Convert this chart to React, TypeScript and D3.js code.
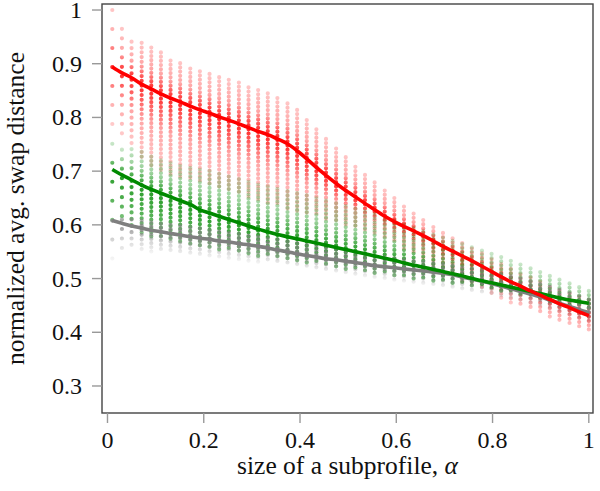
import * as d3 from "d3";

// subprofile sizes (one column of points per value)
const ALPHA = [
  0.01, 0.03, 0.05, 0.071, 0.091, 0.111, 0.131, 0.151, 0.172, 0.192,
  0.212, 0.232, 0.252, 0.273, 0.293, 0.313, 0.333, 0.353, 0.374, 0.394,
  0.414, 0.434, 0.454, 0.475, 0.495, 0.515, 0.535, 0.555, 0.576, 0.596,
  0.616, 0.636, 0.656, 0.677, 0.697, 0.717, 0.737, 0.757, 0.778, 0.798,
  0.818, 0.838, 0.858, 0.879, 0.899, 0.919, 0.939, 0.96, 0.98, 1.0,
];

// red series
const RED_MEAN = [
  0.894, 0.883, 0.874, 0.862, 0.853, 0.844, 0.836, 0.829, 0.821, 0.814,
  0.808, 0.801, 0.795, 0.788, 0.781, 0.774, 0.768, 0.76, 0.751, 0.738,
  0.723, 0.707, 0.692, 0.677, 0.664, 0.652, 0.64, 0.628, 0.616, 0.606,
  0.597, 0.589, 0.58, 0.57, 0.56, 0.551, 0.542, 0.533, 0.523, 0.513,
  0.503, 0.494, 0.486, 0.477, 0.469, 0.461, 0.453, 0.446, 0.438, 0.431,
];
const RED_HI = [
  1.0, 0.965, 0.941, 0.939, 0.93, 0.921, 0.906, 0.901, 0.891, 0.886,
  0.881, 0.875, 0.87, 0.865, 0.856, 0.851, 0.845, 0.836, 0.826, 0.814,
  0.795, 0.778, 0.76, 0.742, 0.726, 0.708, 0.693, 0.679, 0.664, 0.65,
  0.634, 0.621, 0.609, 0.596, 0.585, 0.575, 0.566, 0.556, 0.547, 0.536,
  0.527, 0.518, 0.508, 0.502, 0.494, 0.484, 0.478, 0.472, 0.466, 0.46,
];
const RED_LO = [
  0.787, 0.767, 0.745, 0.72, 0.71, 0.7, 0.69, 0.685, 0.68, 0.675,
  0.67, 0.665, 0.66, 0.655, 0.65, 0.645, 0.64, 0.635, 0.63, 0.625,
  0.62, 0.615, 0.61, 0.605, 0.6, 0.595, 0.59, 0.585, 0.575, 0.565,
  0.555, 0.545, 0.535, 0.525, 0.515, 0.505, 0.495, 0.487, 0.478, 0.47,
  0.462, 0.455, 0.447, 0.44, 0.432, 0.425, 0.418, 0.412, 0.406, 0.4,
];

// green series
const GREEN_MEAN = [
  0.703, 0.693, 0.684, 0.674, 0.666, 0.659, 0.652, 0.645, 0.638, 0.628,
  0.622, 0.616, 0.61, 0.604, 0.598, 0.592, 0.587, 0.582, 0.578, 0.574,
  0.57, 0.566, 0.562, 0.558, 0.554, 0.55, 0.546, 0.542, 0.538, 0.534,
  0.529, 0.525, 0.521, 0.517, 0.513, 0.509, 0.505, 0.5, 0.496, 0.492,
  0.488, 0.484, 0.48, 0.476, 0.472, 0.468, 0.464, 0.46, 0.457, 0.454,
];
const GREEN_HI = [
  0.751, 0.74, 0.741, 0.736, 0.727, 0.72, 0.715, 0.71, 0.706, 0.703,
  0.7, 0.695, 0.69, 0.685, 0.68, 0.675, 0.671, 0.667, 0.663, 0.659,
  0.655, 0.65, 0.645, 0.64, 0.635, 0.63, 0.625, 0.62, 0.615, 0.608,
  0.6, 0.594, 0.588, 0.582, 0.576, 0.57, 0.564, 0.558, 0.552, 0.546,
  0.54, 0.533, 0.526, 0.519, 0.512, 0.505, 0.498, 0.491, 0.484, 0.477,
];
const GREEN_LO = [
  0.608, 0.6, 0.59, 0.582, 0.576, 0.572, 0.568, 0.565, 0.562, 0.559,
  0.556, 0.553, 0.55, 0.547, 0.545, 0.542, 0.54, 0.537, 0.534, 0.531,
  0.528, 0.525, 0.522, 0.52, 0.517, 0.515, 0.512, 0.51, 0.507, 0.505,
  0.502, 0.5, 0.497, 0.495, 0.492, 0.49, 0.487, 0.485, 0.482, 0.479,
  0.476, 0.473, 0.47, 0.466, 0.462, 0.458, 0.454, 0.45, 0.446, 0.442,
];

// gray series
const GRAY_MEAN = [
  0.608, 0.603, 0.598, 0.594, 0.59, 0.587, 0.584, 0.581, 0.578, 0.575,
  0.573, 0.57, 0.568, 0.565, 0.563, 0.56, 0.557, 0.553, 0.55, 0.546,
  0.543, 0.54, 0.537, 0.535, 0.532, 0.53, 0.527, 0.524, 0.522, 0.52,
  0.518, 0.516, 0.514, 0.512, 0.51, 0.507, 0.503, 0.499, 0.495, 0.491,
  0.486, 0.481, 0.476, 0.471, 0.466, 0.46, 0.454, 0.448, 0.442, 0.437,
];
const GRAY_HI = [
  0.608, 0.61, 0.61, 0.608, 0.605, 0.602, 0.6, 0.598, 0.595, 0.593,
  0.59, 0.588, 0.585, 0.583, 0.58, 0.578, 0.575, 0.572, 0.569, 0.566,
  0.563, 0.56, 0.557, 0.554, 0.551, 0.548, 0.545, 0.542, 0.54, 0.537,
  0.535, 0.533, 0.531, 0.529, 0.527, 0.524, 0.521, 0.518, 0.515, 0.512,
  0.508, 0.504, 0.5, 0.495, 0.49, 0.485, 0.479, 0.473, 0.467, 0.461,
];
const GRAY_LO = [
  0.537, 0.545, 0.552, 0.551, 0.55, 0.548, 0.547, 0.545, 0.544, 0.542,
  0.541, 0.539, 0.537, 0.535, 0.533, 0.531, 0.529, 0.527, 0.524, 0.522,
  0.519, 0.517, 0.514, 0.512, 0.509, 0.507, 0.505, 0.502, 0.5, 0.497,
  0.495, 0.492, 0.49, 0.487, 0.484, 0.481, 0.478, 0.475, 0.472, 0.469,
  0.465, 0.461, 0.457, 0.452, 0.447, 0.442, 0.436, 0.43, 0.424, 0.418,
];

const X_TICKS = [0, 0.2, 0.4, 0.6, 0.8, 1];
const Y_TICKS = [0.3, 0.4, 0.5, 0.6, 0.7, 0.8, 0.9, 1];

const WIDTH = 600;
const HEIGHT = 491;
const PLOT = { left: 102, right: 593, top: 4, bottom: 413 };
const FONT = "'Liberation Serif', 'DejaVu Serif', serif";

interface Series {
  key: string;
  color: string;
  mean: number[];
  hi: number[];
  lo: number[];
  // opacity at top of strip, halfway to the mean, at the mean, halfway down, at bottom
  fade: [number, number, number, number, number];
}

const SERIES: Series[] = [
  { key: "red", color: "#ff0000", mean: RED_MEAN, hi: RED_HI, lo: RED_LO, fade: [0.22, 0.35, 0.85, 0.35, 0.2] },
  { key: "green", color: "#008a00", mean: GREEN_MEAN, hi: GREEN_HI, lo: GREEN_LO, fade: [0.2, 0.4, 0.85, 0.7, 0.45] },
  { key: "gray", color: "#7f7f7f", mean: GRAY_MEAN, hi: GRAY_HI, lo: GRAY_LO, fade: [0.5, 0.7, 0.85, 0.35, 0.06] },
];

// draw order of the mean curves (red on top)
const LINE_ORDER = ["gray", "green", "red"];

export default function App() {
  const x = d3.scaleLinear().domain([-0.0114, 1.0087]).range([PLOT.left, PLOT.right]);
  const y = d3.scaleLinear().domain([0.2497, 1.0112]).range([PLOT.bottom, PLOT.top]);

  const line = d3
    .line<number>()
    .x((_, i) => x(ALPHA[i]))
    .y((d) => y(d))
    .curve(d3.curveMonotoneX);

  const dotR = 2.1;
  const tickSize = 24;
  const titleSize = 25.5;

  return (
    <svg
      width={WIDTH}
      height={HEIGHT}
      style={{ position: "absolute", left: 0, top: 0, background: "#fff" }}
      fontFamily={FONT}
    >
      <defs>
        <clipPath id="plot-clip">
          <rect x={PLOT.left} y={PLOT.top} width={PLOT.right - PLOT.left} height={PLOT.bottom - PLOT.top} />
        </clipPath>
        {SERIES.map((s) =>
          ALPHA.map((_, i) => {
            const y0 = y(s.hi[i]) - dotR;
            const y1 = y(s.lo[i]) + dotR;
            const m = Math.min(1, Math.max(0, (y(s.mean[i]) - y0) / (y1 - y0)));
            return (
              <linearGradient
                key={`${s.key}-${i}`}
                id={`grad-${s.key}-${i}`}
                gradientUnits="userSpaceOnUse"
                x1={0}
                x2={0}
                y1={y0}
                y2={y1}
              >
                <stop offset={0} stopColor={s.color} stopOpacity={s.fade[0]} />
                <stop offset={m * 0.55} stopColor={s.color} stopOpacity={s.fade[1]} />
                <stop offset={m} stopColor={s.color} stopOpacity={s.fade[2]} />
                <stop offset={m + (1 - m) * 0.45} stopColor={s.color} stopOpacity={s.fade[3]} />
                <stop offset={1} stopColor={s.color} stopOpacity={s.fade[4]} />
              </linearGradient>
            );
          })
        )}
      </defs>

      <rect width={WIDTH} height={HEIGHT} fill="#fff" />

      {/* point strips */}
      <g clipPath="url(#plot-clip)">
        {SERIES.map((s) => (
          <g key={s.key}>
            {ALPHA.map((a, i) => {
              const gap = Math.max(19 / (i + 1), 4.2);
              return (
                <line
                  key={i}
                  x1={x(a)}
                  x2={x(a)}
                  y1={y(s.hi[i])}
                  y2={y(s.lo[i]) + 0.01}
                  stroke={`url(#grad-${s.key}-${i})`}
                  strokeWidth={dotR * 2}
                  strokeLinecap="round"
                  strokeDasharray={`0 ${gap}`}
                />
              );
            })}
          </g>
        ))}

        {/* mean curves */}
        {LINE_ORDER.map((k) => {
          const s = SERIES.find((d) => d.key === k)!;
          return (
            <path
              key={k}
              d={line(s.mean) ?? ""}
              fill="none"
              stroke={s.color}
              strokeWidth={3.6}
              strokeLinejoin="round"
            />
          );
        })}
      </g>

      {/* frame */}
      <rect
        x={PLOT.left}
        y={PLOT.top}
        width={PLOT.right - PLOT.left}
        height={PLOT.bottom - PLOT.top}
        fill="none"
        stroke="#444"
        strokeWidth={1.4}
      />

      {/* x axis */}
      <g>
        {X_TICKS.map((t) => (
          <g key={t} transform={`translate(${x(t)},0)`}>
            <line y1={PLOT.bottom} y2={PLOT.bottom + 10} stroke="#999" strokeWidth={1.4} />
            <text y={447.5} textAnchor="middle" fontSize={tickSize} fill="#111">
              {String(t)}
            </text>
          </g>
        ))}
        <text x={(PLOT.left + PLOT.right) / 2} y={474} textAnchor="middle" fontSize={titleSize} fill="#111">
          size of a subprofile, <tspan fontStyle="italic">α</tspan>
        </text>
      </g>

      {/* y axis */}
      <g>
        {Y_TICKS.map((t) => (
          <g key={t} transform={`translate(0,${y(t)})`}>
            <line x1={PLOT.left - 10} x2={PLOT.left} stroke="#999" strokeWidth={1.4} />
            <text x={82} y={8} textAnchor="end" fontSize={tickSize} fill="#111">
              {String(t)}
            </text>
          </g>
        ))}
        <text
          transform={`translate(24,${(PLOT.top + PLOT.bottom) / 2}) rotate(-90)`}
          textAnchor="middle"
          fontSize={titleSize}
          fill="#111"
        >
          normalized avg. swap distance
        </text>
      </g>
    </svg>
  );
}
